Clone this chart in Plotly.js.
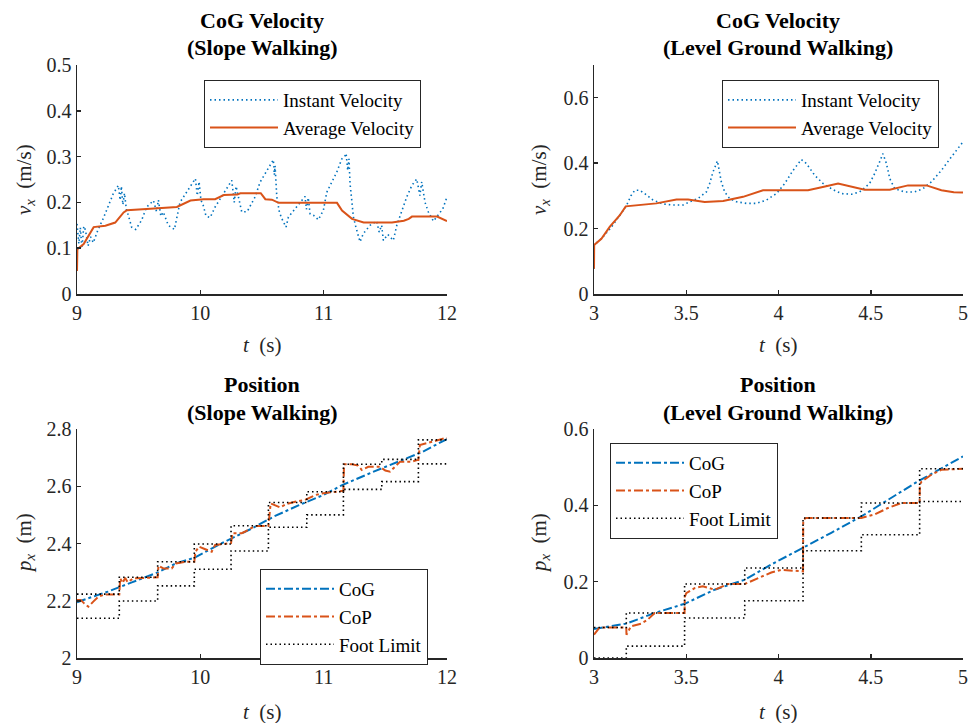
<!DOCTYPE html>
<html>
<head>
<meta charset="utf-8">
<script src="https://cdn.plot.ly/plotly-3.0.1.min.js"></script>
<style>html,body{margin:0;padding:0;background:#fff;}#chart{width:969px;height:723px;}</style>
</head>
<body>
<div id="chart"></div>
<script>
// ---------- Data ----------
// Panel 1: CoG velocity, slope walking
const slopeInstT = [9.000,9.015,9.027,9.040,9.055,9.068,9.090,9.110,9.132,9.170,9.213,9.254,9.294,9.335,9.350,9.360,9.372,9.385,9.400,9.416,9.443,9.476,9.524,9.565,9.620,9.645,9.660,9.680,9.700,9.740,9.790,9.835,9.900,9.960,9.975,9.990,10.005,10.024,10.046,10.080,10.120,10.180,10.255,10.275,10.290,10.336,10.380,10.444,10.484,10.530,10.570,10.592,10.600,10.606,10.620,10.641,10.660,10.695,10.714,10.768,10.822,10.849,10.860,10.875,10.890,10.917,10.957,10.998,11.025,11.066,11.106,11.147,11.170,11.182,11.195,11.205,11.214,11.228,11.241,11.268,11.295,11.322,11.376,11.430,11.450,11.470,11.484,11.520,11.565,11.593,11.633,11.674,11.715,11.755,11.780,11.795,11.822,11.849,11.890,11.930,11.966,12.000];
const slopeInstV = [0.153,0.110,0.145,0.100,0.148,0.140,0.105,0.125,0.112,0.140,0.165,0.193,0.219,0.237,0.205,0.235,0.195,0.220,0.185,0.172,0.146,0.141,0.161,0.190,0.204,0.180,0.205,0.170,0.179,0.150,0.141,0.200,0.226,0.252,0.215,0.245,0.205,0.193,0.170,0.167,0.190,0.215,0.248,0.200,0.235,0.179,0.180,0.212,0.244,0.265,0.285,0.293,0.260,0.280,0.212,0.179,0.165,0.146,0.168,0.186,0.204,0.213,0.185,0.210,0.175,0.172,0.162,0.183,0.222,0.244,0.266,0.295,0.300,0.307,0.270,0.295,0.241,0.204,0.168,0.139,0.114,0.132,0.150,0.159,0.135,0.150,0.117,0.130,0.117,0.150,0.183,0.212,0.237,0.251,0.215,0.245,0.200,0.179,0.159,0.172,0.186,0.212];
const slopeAvgT = [9.000,9.003,9.054,9.135,9.230,9.310,9.378,9.405,9.595,9.703,9.730,9.810,9.920,10.027,10.120,10.190,10.300,10.324,10.490,10.527,10.580,10.635,11.108,11.149,11.230,11.324,11.554,11.650,11.690,11.716,11.920,12.000];
const slopeAvgV = [0.050,0.098,0.109,0.146,0.149,0.156,0.178,0.183,0.186,0.188,0.190,0.190,0.204,0.207,0.207,0.216,0.217,0.220,0.220,0.207,0.206,0.199,0.199,0.182,0.164,0.156,0.156,0.160,0.164,0.169,0.169,0.159];

// Panel 2: CoG velocity, level ground walking
const levelInstT = [3.000,3.001,3.040,3.094,3.139,3.175,3.200,3.221,3.248,3.275,3.320,3.374,3.428,3.482,3.519,3.564,3.609,3.627,3.645,3.669,3.690,3.708,3.735,3.772,3.826,3.880,3.934,3.989,4.034,4.079,4.124,4.151,4.196,4.241,4.295,4.341,4.395,4.440,4.494,4.521,4.548,4.566,4.585,4.603,4.630,4.684,4.738,4.783,4.829,4.883,4.937,5.000];
const levelInstV = [0.077,0.150,0.169,0.204,0.240,0.269,0.300,0.317,0.317,0.307,0.287,0.275,0.272,0.272,0.282,0.292,0.312,0.338,0.373,0.407,0.343,0.312,0.292,0.282,0.277,0.277,0.287,0.307,0.338,0.378,0.411,0.399,0.363,0.338,0.319,0.307,0.305,0.312,0.338,0.368,0.404,0.429,0.399,0.353,0.322,0.312,0.312,0.322,0.343,0.378,0.419,0.465];
const levelAvgT = [3.000,3.001,3.040,3.085,3.139,3.172,3.338,3.447,3.510,3.600,3.700,3.808,3.916,4.160,4.240,4.323,4.467,4.603,4.702,4.802,4.883,4.950,5.000];
const levelAvgV = [0.077,0.150,0.169,0.205,0.240,0.268,0.277,0.289,0.289,0.281,0.284,0.297,0.317,0.317,0.327,0.338,0.319,0.319,0.332,0.332,0.317,0.311,0.310];

// Panel 3: position, slope walking
const slopeCogT = [9.00,9.25,9.45,9.66,9.80,9.95,10.17,10.42,10.60,10.80,11.00,11.15,11.40,11.60,11.80,12.00];
const slopeCogP = [2.195,2.232,2.265,2.300,2.330,2.350,2.400,2.453,2.495,2.534,2.570,2.604,2.650,2.685,2.720,2.765];
const slopeCopT = [9.000,9.030,9.060,9.092,9.132,9.173,9.227,9.322,9.343,9.350,9.370,9.390,9.410,9.457,9.620,9.654,9.660,9.700,9.768,9.800,9.876,9.943,9.951,9.960,9.990,10.040,10.092,10.120,10.227,10.249,10.260,10.300,10.336,10.360,10.444,10.538,10.552,10.570,10.646,10.700,10.768,10.849,10.930,10.985,11.147,11.160,11.165,11.230,11.280,11.309,11.362,11.457,11.500,11.538,11.620,11.715,11.763,11.768,11.780,11.877,11.985,12.000];
const slopeCopP = [2.203,2.203,2.190,2.179,2.197,2.214,2.222,2.222,2.222,2.278,2.262,2.280,2.265,2.278,2.282,2.282,2.322,2.313,2.313,2.330,2.336,2.336,2.336,2.371,2.389,2.380,2.371,2.395,2.401,2.401,2.436,2.436,2.436,2.441,2.461,2.461,2.461,2.540,2.526,2.538,2.546,2.552,2.569,2.575,2.584,2.584,2.677,2.677,2.672,2.657,2.668,2.668,2.655,2.651,2.686,2.686,2.692,2.692,2.744,2.756,2.768,2.768];
const slopeFootT = [9.000,9.343,9.654,9.951,10.249,10.552,10.863,11.160,11.471,11.768,12.000];
const slopeFootUpper = [2.223,2.282,2.336,2.398,2.462,2.543,2.581,2.677,2.694,2.762,2.762];
const slopeFootLower = [2.139,2.199,2.252,2.310,2.374,2.457,2.500,2.589,2.616,2.678,2.678];

// Panel 4: position, level ground walking
const levelCogT = [3.000,3.175,3.329,3.491,3.654,3.817,3.961,4.133,4.286,4.449,4.593,4.756,5.000];
const levelCogP = [0.076,0.090,0.118,0.142,0.179,0.205,0.245,0.288,0.328,0.371,0.415,0.463,0.528];
const levelCopT = [3.000,3.030,3.050,3.175,3.176,3.200,3.255,3.290,3.329,3.491,3.492,3.500,3.545,3.590,3.654,3.727,3.817,3.870,3.961,4.015,4.133,4.134,4.150,4.449,4.521,4.593,4.665,4.765,4.766,4.775,4.828,4.882,5.000];
const levelCopP = [0.061,0.080,0.080,0.080,0.061,0.083,0.090,0.100,0.118,0.118,0.160,0.170,0.183,0.188,0.179,0.194,0.194,0.205,0.224,0.231,0.227,0.362,0.367,0.367,0.376,0.393,0.406,0.406,0.454,0.462,0.480,0.493,0.496];
const levelFootT = [3.000,3.175,3.491,3.817,4.133,4.449,4.765,5.000];
const levelFootUpper = [0.080,0.118,0.194,0.236,0.367,0.406,0.496,0.496];
const levelFootLower = [0.000,0.031,0.105,0.150,0.281,0.323,0.410,0.410];

// ---------- Styles ----------
const BLUE = '#0072BD', ORANGE = '#D95319', BLACK = '#000000', AXC = '#262626';
const FONT = 'Liberation Serif';

function stepJoin(t, a, b) {
  return { x: t.concat([null]).concat(t), y: a.concat([null]).concat(b) };
}
const sf = stepJoin(slopeFootT, slopeFootUpper, slopeFootLower);
const lf = stepJoin(levelFootT, levelFootUpper, levelFootLower);

const DOT = '1.5px,3px';
const traces = [
  {x: slopeInstT, y: slopeInstV, xaxis:'x', yaxis:'y', mode:'lines', name:'Instant Velocity', legend:'legend',
   line:{color:BLUE, width:1.6, dash:DOT}},
  {x: slopeAvgT, y: slopeAvgV, xaxis:'x', yaxis:'y', mode:'lines', name:'Average Velocity', legend:'legend',
   line:{color:ORANGE, width:2}},
  {x: levelInstT, y: levelInstV, xaxis:'x2', yaxis:'y2', mode:'lines', name:'Instant Velocity', legend:'legend2',
   line:{color:BLUE, width:1.6, dash:DOT}},
  {x: levelAvgT, y: levelAvgV, xaxis:'x2', yaxis:'y2', mode:'lines', name:'Average Velocity', legend:'legend2',
   line:{color:ORANGE, width:2}},
  {x: slopeCogT, y: slopeCogP, xaxis:'x3', yaxis:'y3', mode:'lines', name:'CoG', legend:'legend3',
   line:{color:BLUE, width:2, dash:'dashdot'}},
  {x: slopeCopT, y: slopeCopP, xaxis:'x3', yaxis:'y3', mode:'lines', name:'CoP', legend:'legend3',
   line:{color:ORANGE, width:2, dash:'dashdot'}},
  {x: sf.x, y: sf.y, xaxis:'x3', yaxis:'y3', mode:'lines', name:'Foot Limit', legend:'legend3', connectgaps:false,
   line:{color:BLACK, width:1.6, dash:DOT, shape:'hv'}},
  {x: levelCogT, y: levelCogP, xaxis:'x4', yaxis:'y4', mode:'lines', name:'CoG', legend:'legend4',
   line:{color:BLUE, width:2, dash:'dashdot'}},
  {x: levelCopT, y: levelCopP, xaxis:'x4', yaxis:'y4', mode:'lines', name:'CoP', legend:'legend4',
   line:{color:ORANGE, width:2, dash:'dashdot'}},
  {x: lf.x, y: lf.y, xaxis:'x4', yaxis:'y4', mode:'lines', name:'Foot Limit', legend:'legend4', connectgaps:false,
   line:{color:BLACK, width:1.6, dash:DOT, shape:'hv'}}
];

const W = 969, H = 723;
const px = v => v / W, py = v => 1 - v / H;

function ax(domain, range, dtick, anchor) {
  return {domain: domain, range: range, dtick: dtick, tick0: range[0], anchor: anchor,
    showline:true, linecolor:AXC, linewidth:1.5, mirror:false, showgrid:false, zeroline:false,
    ticks:'inside', ticklen:4, tickwidth:1.5, tickcolor:AXC,
    tickfont:{family:FONT, size:20, color:AXC}, fixedrange:true};
}

const leftX = [px(77), px(447)], rightX = [px(594), px(963)];
const topY = [py(294), py(65)], botY = [py(658), py(429)];

function legendAt(x, y) {
  return {x: px(x), y: py(y), xanchor:'left', yanchor:'top', xref:'paper', yref:'paper',
    bgcolor:'#ffffff', bordercolor:AXC, borderwidth:1,
    font:{family:FONT, size:19, color:'#000'}, tracegroupgap:0, itemwidth:68, traceorder:'normal'};
}

function ann(text, x, y, opts) {
  return Object.assign({text: text, x: px(x), y: py(y), xref:'paper', yref:'paper',
    showarrow:false, xanchor:'center', yanchor:'middle',
    font:{family:FONT, size:21, color:AXC}}, opts || {});
}
const titleFont = {family:FONT, size:22, color:'#000'};

const annotations = [
  ann('<b>CoG Velocity</b>', 262, 20, {font:titleFont}),
  ann('<b>(Slope Walking)</b>', 262, 48, {font:titleFont}),
  ann('<b>CoG Velocity</b>', 778, 20, {font:titleFont}),
  ann('<b>(Level Ground Walking)</b>', 778, 48, {font:titleFont}),
  ann('<b>Position</b>', 262, 384, {font:titleFont}),
  ann('<b>(Slope Walking)</b>', 262, 412, {font:titleFont}),
  ann('<b>Position</b>', 778, 384, {font:titleFont}),
  ann('<b>(Level Ground Walking)</b>', 778, 412, {font:titleFont}),
  ann('<i>t</i>  (s)', 262, 345),
  ann('<i>t</i>  (s)', 778, 345),
  ann('<i>t</i>  (s)', 262, 712),
  ann('<i>t</i>  (s)', 778, 712),
  ann('<i>v</i><sub><i>x</i></sub>  (m/s)', 25, 180, {textangle:-90}),
  ann('<i>v</i><sub><i>x</i></sub>  (m/s)', 540, 180, {textangle:-90}),
  ann('<i>p</i><sub><i>x</i></sub>  (m)', 25, 543, {textangle:-90}),
  ann('<i>p</i><sub><i>x</i></sub>  (m)', 540, 543, {textangle:-90})
];

const layout = {
  width: W, height: H,
  margin: {l:0, r:0, t:0, b:0},
  paper_bgcolor:'#ffffff', plot_bgcolor:'#ffffff',
  font:{family:FONT, color:AXC},
  showlegend:true,
  xaxis: ax(leftX, [9, 12], 1, 'y'),
  yaxis: ax(topY, [0, 0.5], 0.1, 'x'),
  xaxis2: ax(rightX, [3, 5], 0.5, 'y2'),
  yaxis2: ax(topY, [0, 0.7], 0.2, 'x2'),
  xaxis3: ax(leftX, [9, 12], 1, 'y3'),
  yaxis3: ax(botY, [2, 2.8], 0.2, 'x3'),
  xaxis4: ax(rightX, [3, 5], 0.5, 'y4'),
  yaxis4: ax(botY, [0, 0.6], 0.2, 'x4'),
  legend: legendAt(204, 80),
  legend2: legendAt(722, 80),
  legend3: legendAt(260, 569),
  legend4: legendAt(610, 443),
  annotations: annotations
};
layout.yaxis.tick0 = 0; layout.yaxis2.tick0 = 0; layout.yaxis3.tick0 = 2; layout.yaxis4.tick0 = 0;

Plotly.newPlot('chart', traces, layout, {displayModeBar:false, staticPlot:true});
</script>
</body>
</html>
